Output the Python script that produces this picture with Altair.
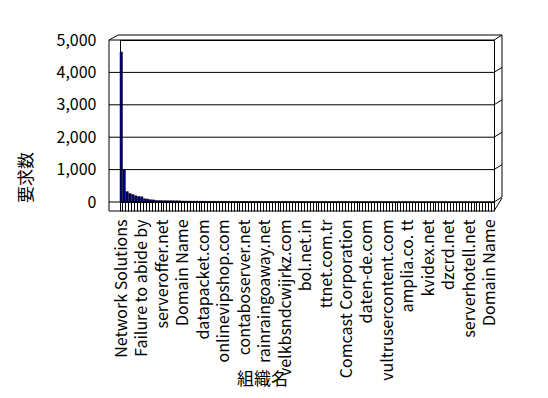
import altair as alt
import pandas as pd

# ---- data ----
requests_head = [4630, 1000, 320, 260, 230, 190, 170, 160, 100, 90,
                 70, 65, 45, 45, 42, 42, 40, 40, 38, 38, 36]
requests_tail = [30, 28, 27, 26, 25, 24, 23, 22, 21, 20,
                 20, 19, 19, 18, 18, 17, 17, 16, 16, 15,
                 15, 15, 14, 14, 14, 13, 13, 13, 12, 12,
                 12, 12, 11, 11, 11, 11, 10, 10, 10, 10,
                 10, 9, 9, 9, 9, 9, 9, 8, 8, 8,
                 8, 8, 8, 8, 7, 7, 7, 7, 7, 7,
                 7, 7, 6, 6, 6, 6, 6, 6, 6, 6,
                 6, 5, 5, 5, 5, 5, 5, 5, 5, 5,
                 5, 4, 4, 4, 4, 4, 4, 4, 4, 4,
                 4, 4, 3, 3, 3, 3, 3, 3, 3, 3,
                 3, 3, 2, 2, 2, 2, 2]
requests = requests_head + requests_tail

shown_labels = ["Network Solutions", "Failure to abide by", "serveroffer.net",
                "Domain Name", "datapacket.com", "onlinevipshop.com",
                "contaboserver.net", "rainraingoaway.net", "velkbsndcwijrkz.com",
                "bol.net.in", "ttnet.com.tr", "Comcast Corporation",
                "daten-de.com", "vultrusercontent.com", "amplia.co. tt",
                "kvidex.net", "dzcrd.net", "serverhotell.net", "Domain Name"]
label_step = 7
y_ticks = [0, 1000, 2000, 3000, 4000, 5000]

# ---- layout ----
W, H = 374, 162
DX, DY = 8, 5        # 3D depth offset
LW = 11              # left wall width
FONT = "Noto Sans CJK JP"

df = pd.DataFrame({"idx": list(range(len(requests))), "requests": requests})
grid_df = pd.DataFrame({"v": y_ticks})
one = pd.DataFrame({"d": [0]})

arr = "[" + ",".join("'" + s + "'" for s in shown_labels) + "]"
label_expr = f"datum.value % {label_step} === 0 ? {arr}[datum.value / {label_step}] : ''"

yscale = alt.Scale(domain=[0, 5000], nice=False)
yaxis = alt.Axis(title="要求数", values=y_ticks, format=",d",
                 domain=False, ticks=False, grid=False, labelPadding=24,
                 labelFont=FONT, labelFontSize=16, labelColor="black",
                 titleFont=FONT, titleFontSize=17, titleFontWeight="normal",
                 titleColor="black", titleAngle=270, titleX=-94, titleY=137,
                 titleAlign="center", titleBaseline="middle")

bars = alt.Chart(df).mark_bar(color="#000080", stroke="#000000", strokeWidth=0.5).encode(
    x=alt.X("idx:O",
            scale=alt.Scale(paddingInner=0.15, paddingOuter=0),
            axis=alt.Axis(title="組織名", labelExpr=label_expr, labelAngle=270,
                          labelAlign="right", labelBaseline="middle",
                          labelPadding=8, tickSize=9, tickBand="extent",
                          tickColor="black", domainColor="black",
                          labelFont=FONT, labelFontSize=16, labelColor="black",
                          labelFontWeight="normal",
                          titleFont=FONT, titleFontSize=17, titleFontWeight="normal",
                          titleColor="black", titleX=142, titleY=177,
                          titleAlign="center", titleBaseline="middle",
                          labelOverlap=False, grid=False)),
    y=alt.Y("requests:Q", scale=yscale, axis=yaxis),
)

grid = alt.Chart(grid_df).mark_rule(color="black", strokeWidth=1).encode(
    x=alt.value(-LW), x2=alt.value(W),
    y=alt.Y("v:Q", scale=yscale, axis=yaxis),
)
diag = alt.Chart(grid_df).mark_rule(color="black", strokeWidth=1, y2Offset=-DY).encode(
    x=alt.value(W), x2=alt.value(W + DX),
    y=alt.Y("v:Q", scale=yscale, axis=yaxis), y2="v:Q",
)

def seg(x1, y1, x2, y2):
    return alt.Chart(one).mark_rule(color="black", strokeWidth=1).encode(
        x=alt.value(x1), y=alt.value(y1), x2=alt.value(x2), y2=alt.value(y2))

frame = [
    seg(-LW, 0, -LW, H + 9),          # left wall edge
    seg(-LW, H + 9, W, H + 9),        # floor front edge
    seg(-LW, 0, -LW + 9, -DY),        # top-left bevel
    seg(-LW + 9, -DY, W + DX, -DY),   # top outer edge
    seg(W + DX, -DY, W + DX, H - DY), # right outer edge
    seg(W, H + 9, W + DX, H - DY + 1),# bottom-right diagonal
]

chart = alt.layer(bars, grid, diag, *frame).properties(
    width=W, height=H,
    autosize=alt.AutoSizeParams(type="none"),
    padding={"left": 112, "top": 32, "right": 40, "bottom": 185},
    background="white",
).configure_view(stroke="black", strokeWidth=1)

chart.save("out.html", embed_options={"renderer": "svg", "actions": False})
